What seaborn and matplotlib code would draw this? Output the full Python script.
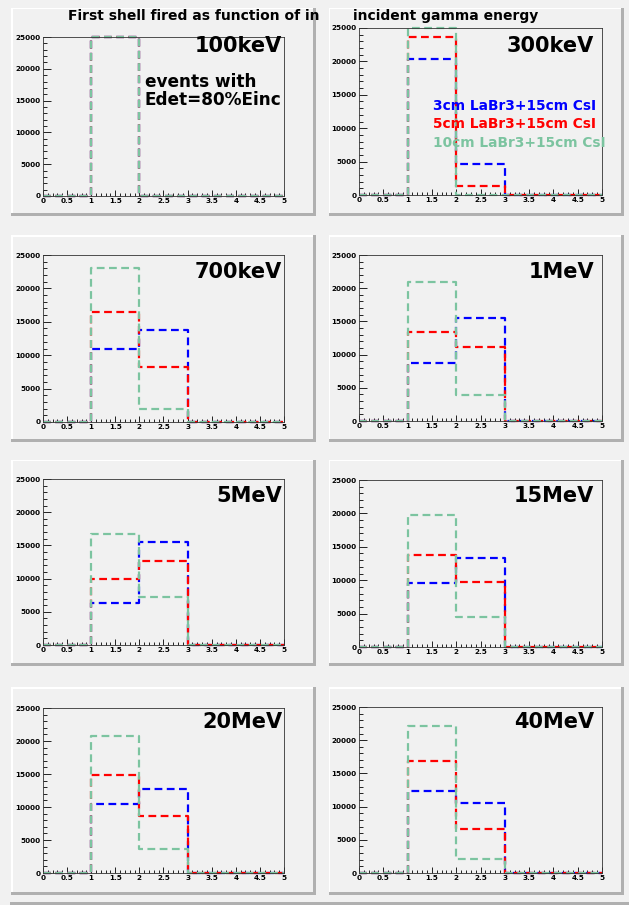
import numpy as np
import pandas as pd
import matplotlib.pyplot as plt
import seaborn as sns
from matplotlib.patches import Rectangle

sns.set_style('white')
plt.rcParams['font.family'] = ['DejaVu Sans']
plt.rcParams['text.color'] = 'black'
plt.rcParams['xtick.color'] = 'black'
plt.rcParams['ytick.color'] = 'black'

# bins of "first shell fired"
bin_edges = [0, 1, 2, 3, 4, 5]
bin_centers = [0.5, 1.5, 2.5, 3.5, 4.5]

energies = ['100keV', '300keV', '700keV', '1MeV', '5MeV', '15MeV', '20MeV', '40MeV']

# counts per bin, one row per incident energy
counts_3cm = [
    [0, 25000, 0, 0, 0],
    [0, 20300, 4600, 0, 0],
    [0, 11000, 13700, 0, 0],
    [0, 8700, 15500, 0, 0],
    [0, 6300, 15500, 0, 0],
    [0, 9600, 13300, 0, 0],
    [0, 10400, 12700, 0, 0],
    [0, 12400, 10500, 0, 0],
]
counts_5cm = [
    [0, 25000, 0, 0, 0],
    [0, 23700, 1300, 0, 0],
    [0, 16500, 8300, 0, 0],
    [0, 13400, 11100, 0, 0],
    [0, 9900, 12700, 0, 0],
    [0, 13700, 9700, 0, 0],
    [0, 14800, 8700, 0, 0],
    [0, 16900, 6600, 0, 0],
]
counts_10cm = [
    [0, 25000, 0, 0, 0],
    [0, 25000, 0, 0, 0],
    [0, 23000, 2000, 0, 0],
    [0, 21000, 3900, 0, 0],
    [0, 16700, 7300, 0, 0],
    [0, 19800, 4500, 0, 0],
    [0, 20800, 3600, 0, 0],
    [0, 22200, 2100, 0, 0],
]

series_labels = ['3cm LaBr3+15cm CsI', '5cm LaBr3+15cm CsI', '10cm LaBr3+15cm CsI']
series_colors = ['#0000ff', '#ff0000', '#7cc4a0']

x_ticks = [0, 0.5, 1, 1.5, 2, 2.5, 3, 3.5, 4, 4.5, 5]
x_tick_labels = ['0', '0.5', '1', '1.5', '2', '2.5', '3', '3.5', '4', '4.5', '5']
y_ticks = [0, 5000, 10000, 15000, 20000, 25000]
y_tick_labels = ['0', '5000', '10000', '15000', '20000', '25000']

W, H = 629, 905
BG = '#f1f1f1'
SHADOW = '#b0b0b0'


def frac(x0, y0, x1, y1):
    return [x0 / W, 1 - y1 / H, (x1 - x0) / W, (y1 - y0) / H]


def box(x0, y0, x1, y1, color, z):
    # rectangle given in pixel coords (y down)
    fig.add_artist(Rectangle((x0 / W, 1 - y1 / H), (x1 - x0) / W, (y1 - y0) / H,
                             transform=fig.transFigure, facecolor=color,
                             edgecolor='none', zorder=z))


fig = plt.figure(figsize=(W / 100, H / 100), dpi=100, facecolor=BG)

# canvas border at the bottom
box(10, 902, 629, 905, SHADOW, -6)

# pad frames (pixel coords)
panel_cols = [(11, 316), (329, 624)]
panel_rows = [(8, 216), (235, 442), (460, 666), (687, 895)]
for (px0, px1) in panel_cols:
    for (py0, py1) in panel_rows:
        box(px0, py0, px1, py1, BG, -5)
        box(px0, py0, px1, py0 + 1.5, 'white', -4)
        box(px0, py0, px0 + 1.5, py1, 'white', -4)
        box(px0, py1 - 3, px1, py1, SHADOW, -3)
        box(px1 - 3, py0, px1, py1, SHADOW, -3)

# axes frames (pixel coords)
axes_cols = [(43, 284), (359, 602)]
axes_rows = [[(37, 196), (28, 195)],
             [(255, 422), (255, 421)],
             [(479, 645), (480, 647)],
             [(708, 873), (707, 873)]]
label_right = [282, 594]
label_base = [52, 278, 502, 728]

for i, energy in enumerate(energies):
    r, c = divmod(i, 2)
    ax0, ax1 = axes_cols[c]
    ay0, ay1 = axes_rows[r][c]
    ax = fig.add_axes(frac(ax0, ay0, ax1, ay1))
    ax.set_facecolor(BG)

    for vals, color in zip([counts_3cm[i], counts_5cm[i], counts_10cm[i]], series_colors):
        df = pd.DataFrame({'shell': bin_centers, 'n': vals})
        sns.histplot(data=df, x='shell', weights='n', bins=bin_edges, element='step',
                     fill=False, color=color, linewidth=1.6,
                     linestyle=(0, (3.5, 2)), clip_on=False, ax=ax)

    ax.set_xlim(0, 5)
    ax.set_ylim(0, 25000)
    ax.set_xlabel('')
    ax.set_ylabel('')
    ax.set_xticks(x_ticks)
    ax.set_xticklabels(x_tick_labels)
    ax.set_yticks(y_ticks)
    ax.set_yticklabels(y_tick_labels)
    ax.set_xticks(np.arange(0, 5.01, 0.1), minor=True)
    ax.set_yticks(np.arange(0, 25001, 1000), minor=True)
    ax.tick_params(which='both', direction='in', colors='black', labelsize=5.2,
                   bottom=True, left=True, top=False, right=False)
    ax.tick_params(axis='x', which='major', length=4.5, width=0.6, pad=1.5)
    ax.tick_params(axis='x', which='minor', length=2, width=0.6)
    ax.tick_params(axis='y', which='major', length=6, width=0.6, pad=2)
    ax.tick_params(axis='y', which='minor', length=3, width=0.6)
    for lab in ax.get_xticklabels() + ax.get_yticklabels():
        lab.set_fontweight('bold')
    for sp in ax.spines.values():
        sp.set_color('#333333')
        sp.set_linewidth(0.6)

    fig.text(label_right[c] / W, 1 - label_base[r] / H, energy, ha='right', va='baseline',
             fontsize=15, fontweight='bold', color='black')

# title split across the two top pads
fig.text(68 / W, 1 - 20 / H, 'First shell fired as function of in', ha='left',
         va='baseline', fontsize=10, fontweight='bold')
fig.text(353 / W, 1 - 20 / H, 'incident gamma energy', ha='left',
         va='baseline', fontsize=10, fontweight='bold')

fig.text(145 / W, 1 - 87 / H, 'events with', ha='left', va='baseline',
         fontsize=12.2, fontweight='bold', color='black')
fig.text(145 / W, 1 - 105 / H, 'Edet=80%Einc', ha='left', va='baseline',
         fontsize=12.2, fontweight='bold', color='black')

legend_base = [110, 128, 147]
for label, color, yb in zip(series_labels, series_colors, legend_base):
    fig.text(433 / W, 1 - yb / H, label, ha='left', va='baseline', fontsize=9.9,
             fontweight='bold', color=color)

fig.savefig('out.png', dpi=100, facecolor=BG)
